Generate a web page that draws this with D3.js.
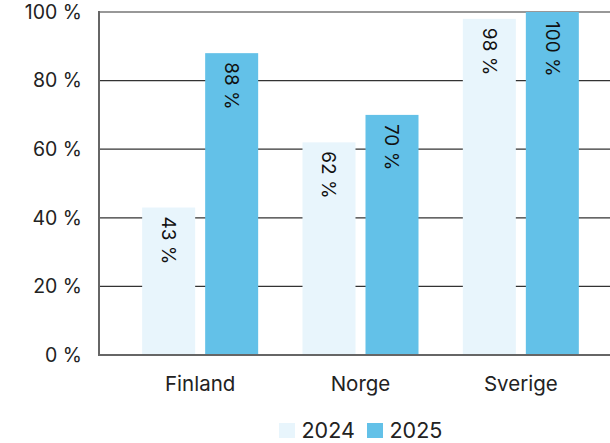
<!DOCTYPE html>
<html><head><meta charset="utf-8">
<script src="https://cdn.jsdelivr.net/npm/d3@7"></script>
<style>body{margin:0;background:#fff}text{font-family:Inter,"Open Sans",sans-serif}</style>
</head><body><svg id="c" width="610" height="443"></svg>
<script>
const categories = ["Finland", "Norge", "Sverige"];
const seriesNames = ["2024", "2025"];
const values2024 = [43, 62, 98];
const values2025 = [88, 70, 100];
const yTicks = [0, 20, 40, 60, 80, 100];
const colors = ["#e8f5fc", "#63c1e8"];

const svg = d3.select("#c");
const y = d3.scaleLinear().domain([0, 100]).range([355, 12]);
const x = d3.scaleBand().domain(categories).range([120, 601]).padding(0);
const groupW = 116;
const x1 = d3.scaleBand().domain(seriesNames)
  .range([x.bandwidth()/2 - groupW/2, x.bandwidth()/2 + groupW/2]).paddingInner(10/63).paddingOuter(0);

// gridlines
svg.append("g").selectAll("line").data(yTicks.filter(d=>d>0)).join("line")
  .attr("x1", 99).attr("x2", 610).attr("y1", d=>y(d)).attr("y2", d=>y(d))
  .attr("stroke", "#333").attr("stroke-width", 1.2);

const data = categories.map((c,i)=>({cat:c, vals:[values2024[i], values2025[i]]}));
const g = svg.append("g").selectAll("g").data(data).join("g")
  .attr("transform", d=>`translate(${x(d.cat)},0)`);
g.selectAll("rect").data(d=>d.vals.map((v,j)=>({v, s:seriesNames[j], j}))).join("rect")
  .attr("x", d=>x1(d.s)).attr("width", x1.bandwidth())
  .attr("y", d=>y(d.v)).attr("height", d=>y(0)-y(d.v))
  .attr("fill", d=>colors[d.j]);
g.selectAll("text").data(d=>d.vals.map((v,j)=>({v, s:seriesNames[j], j}))).join("text")
  .attr("transform", d=>`translate(${x1(d.s)+x1.bandwidth()/2},${y(d.v)+9}) rotate(90)`)
  .attr("dy", "0.35em").attr("text-anchor", "start")
  .attr("font-size", 19).attr("fill", "#111")
  .text(d=>d.v + " %");

// axes lines
svg.append("line").attr("x1", 99).attr("x2", 99).attr("y1", 11).attr("y2", 356)
  .attr("stroke", "#666").attr("stroke-width", 2);
svg.append("line").attr("x1", 98).attr("x2", 610).attr("y1", 355).attr("y2", 355)
  .attr("stroke", "#666").attr("stroke-width", 2);

// y tick labels
svg.append("g").selectAll("text").data(yTicks).join("text")
  .attr("x", 82).attr("y", d=>y(d)).attr("dy", "0.35em").attr("text-anchor", "end")
  .attr("font-size", 19.5).attr("fill", "#222").text(d=>d + " %");

// x labels
svg.append("g").selectAll("text").data(categories).join("text")
  .attr("x", d=>x(d)+x.bandwidth()/2).attr("y", 391)
  .attr("text-anchor", "middle").attr("font-size", 20.5).attr("fill", "#222").text(d=>d);

// legend
const legX = [279, 367];
const leg = svg.append("g").selectAll("g").data(seriesNames).join("g")
  .attr("transform", (d,i)=>`translate(${legX[i]},430)`);
leg.append("rect").attr("x", 0).attr("y", -7).attr("width", 16).attr("height", 15)
  .attr("fill", (d,i)=>colors[i]);
leg.append("text").attr("x", 22.5).attr("y", 7.5).attr("font-size", 21.5)
  .attr("fill", "#222").text(d=>d);
</script></body></html>
